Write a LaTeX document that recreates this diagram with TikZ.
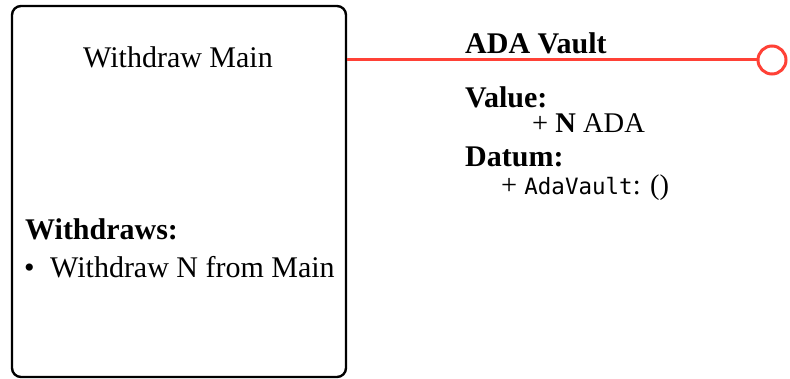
\documentclass[tikz,border=0pt]{standalone}
\usepackage{fontspec}
\setmainfont{Liberation Serif}
\setmonofont{DejaVu Sans Mono}
\definecolor{linkred}{RGB}{255,65,54}
\begin{document}
\begin{tikzpicture}[x=1pt,y=-1pt,
  txt/.style={inner sep=0pt,anchor=base west,font=\fontsize{30}{36}\selectfont},
  itemtxt/.style={inner sep=0pt,anchor=base west,font=\fontsize{28.5}{34}\selectfont},
  ctxt/.style={inner sep=0pt,anchor=base,font=\fontsize{30}{36}\selectfont},
  card/.style={draw=black,line width=2.4pt,rounded corners=9pt,minimum width=334pt,minimum height=371pt,inner sep=0pt},
  link/.style={draw=linkred,line width=3pt},
  port/.style={circle,draw=linkred,line width=3pt,fill=white,minimum size=28pt,inner sep=0pt}]
\useasboundingbox (0,0) rectangle (790,379);
% contract box
\node[card] (main) at (179,191.5) {};
\node[ctxt] (title) at (178,68) {Withdraw Main};
\node[txt] (wlabel) at (25,240) {\bfseries Withdraws:};
\node[txt] (bullet) at (24,278) {\textbullet};
\node[txt] (witem) at (50,278) {Withdraw N from Main};
% output port and its connector
\node[port] (out) at (772,60) {};
\draw[link] (main.east |- out.west) -- (out.west);
% output description
\node[txt] (vault) at (465,54) {\bfseries ADA Vault};
\node[txt] (vlabel) at (465,108) {\bfseries Value:};
\node[itemtxt] (vitem) at (532,133) {+ \textbf{N} ADA};
\node[txt] (dlabel) at (465,167) {\bfseries Datum:};
\node[itemtxt] (ditem) at (501,195) {+ {\fontsize{22.5}{27}\selectfont\ttfamily AdaVault}: ()};
\end{tikzpicture}
\end{document}
